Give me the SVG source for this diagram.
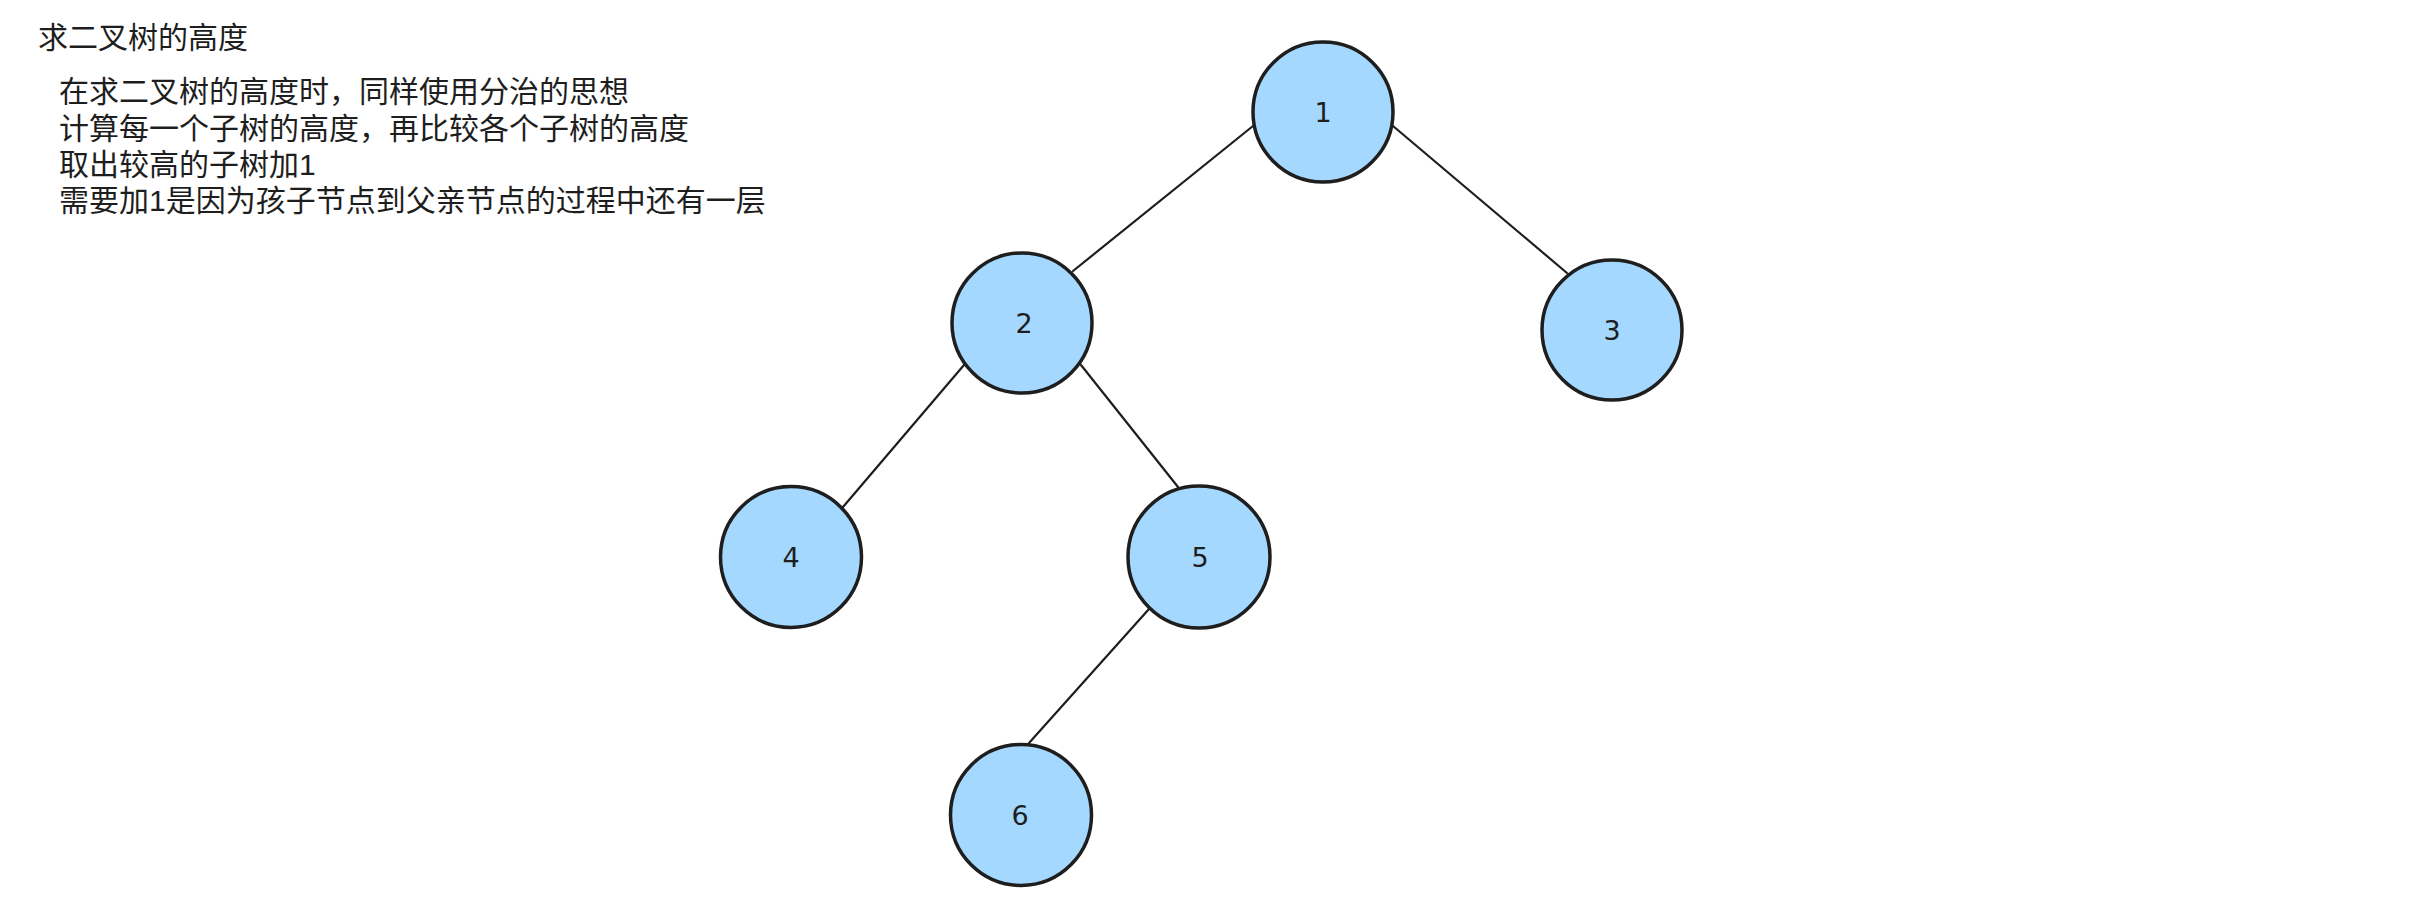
<svg xmlns="http://www.w3.org/2000/svg" width="2413" height="909" viewBox="0 0 2413 909">
<style>
.bg{fill:#ffffff}
.txt{font-family:"Liberation Sans","Noto Sans CJK SC",sans-serif;font-size:30px;fill:#1e1e1e}
.node circle{fill:#a5d8ff;stroke:#1e1e1e;stroke-width:3.5}
.node text{font-family:"DejaVu Sans","Liberation Sans",sans-serif;font-size:27px;fill:#1e1e1e;text-anchor:middle}
.edge{stroke:#1e1e1e;stroke-width:2.2;stroke-linecap:round;fill:none}
</style>
<rect class="bg" x="0" y="0" width="2413" height="909"/>
<g id="notes">
<text class="txt" x="38" y="48">求二叉树的高度</text>
<text class="txt" x="59" y="102">在求二叉树的高度时，同样使用分治的思想</text>
<text class="txt" x="59" y="139">计算每一个子树的高度，再比较各个子树的高度</text>
<text class="txt" x="59" y="175">取出较高的子树加1</text>
<text class="txt" x="59" y="211">需要加1是因为孩子节点到父亲节点的过程中还有一层</text>
</g>
<g id="connectors">
<line class="edge" x1="1253" y1="126" x2="1073" y2="271"/>
<line class="edge" x1="1393" y1="126" x2="1567" y2="273"/>
<line class="edge" x1="964" y1="365" x2="843" y2="507"/>
<line class="edge" x1="1081" y1="365" x2="1178" y2="487"/>
<line class="edge" x1="1149" y1="609" x2="1029" y2="743"/>
</g>
<g id="node1" class="node"><circle cx="1323" cy="112" r="70"/><text x="1323" y="122">1</text></g>
<g id="node2" class="node"><circle cx="1022" cy="323" r="70"/><text x="1024" y="333">2</text></g>
<g id="node3" class="node"><circle cx="1612" cy="330" r="70"/><text x="1612" y="340">3</text></g>
<g id="node4" class="node"><circle cx="791" cy="557" r="70.5"/><text x="791" y="567">4</text></g>
<g id="node5" class="node"><circle cx="1199" cy="557" r="71"/><text x="1200" y="567">5</text></g>
<g id="node6" class="node"><circle cx="1021" cy="815" r="70.5"/><text x="1020" y="825">6</text></g>
</svg>
